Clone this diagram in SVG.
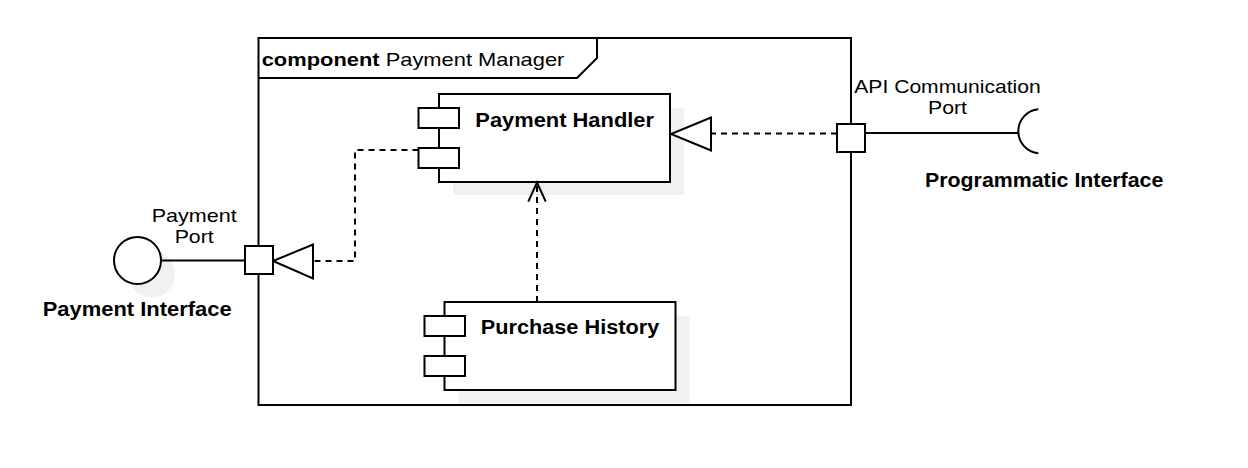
<svg xmlns="http://www.w3.org/2000/svg" width="1248" height="468" viewBox="0 0 1248 468">
  <style>
    .ln { fill: none; stroke: #000; stroke-width: 2; }
    .box { fill: #fff; stroke: #000; stroke-width: 2; }
    .shadow { fill: #f1f1f1; stroke: none; }
    .dash { fill: none; stroke: #000; stroke-width: 2; stroke-dasharray: 6 5; }
    .t { font-family: "Liberation Sans", Arial, Helvetica, sans-serif; fill: #000; }
    .r { font-size: 19px; }
    .b { font-weight: bold; }
  </style>
  <rect width="1248" height="468" fill="#fff"/>

  <g id="payment-manager">
    <rect class="box" x="258.5" y="38" width="592.5" height="367"/>
    <path class="ln" d="M258.5 78 L577 78 L597 58 L597 38"/>
    <text class="t r" x="261.7" y="65.7" textLength="302.7" lengthAdjust="spacingAndGlyphs"><tspan class="b">component</tspan> Payment Manager</text>
  </g>

  <g id="payment-handler">
    <rect class="shadow" x="453" y="108" width="231" height="87"/>
    <rect class="box" x="439" y="94" width="231" height="88"/>
    <rect class="box" x="418.5" y="108" width="40.5" height="20"/>
    <rect class="box" x="418.5" y="148" width="40.5" height="20"/>
    <text class="t b" font-size="21" x="475.3" y="126.7" textLength="178.7" lengthAdjust="spacingAndGlyphs">Payment Handler</text>
  </g>

  <g id="purchase-history">
    <rect class="shadow" x="458.5" y="316" width="231" height="88"/>
    <rect class="box" x="444.5" y="302" width="231" height="88"/>
    <rect class="box" x="424.5" y="316" width="40.5" height="20"/>
    <rect class="box" x="424.5" y="356" width="40.5" height="20"/>
    <text class="t b" font-size="21" x="480.7" y="334" textLength="178.6" lengthAdjust="spacingAndGlyphs">Purchase History</text>
  </g>

  <g id="payment-interface">
    <circle class="shadow" cx="151.5" cy="274" r="23.5"/>
    <circle class="box" cx="137.5" cy="260.5" r="23.5"/>
    <text class="t b" font-size="20" x="42.7" y="316" textLength="189" lengthAdjust="spacingAndGlyphs">Payment Interface</text>
  </g>

  <g id="programmatic-interface">
    <path class="ln" d="M1038.3 109.3 A22.1 22.1 0 0 0 1038.3 153.3"/>
    <text class="t b" font-size="20" x="925" y="186.7" textLength="238.3" lengthAdjust="spacingAndGlyphs">Programmatic Interface</text>
  </g>

  <g id="connectors">
    <line class="ln" x1="161" y1="260.5" x2="245" y2="260.5"/>
    <line class="ln" x1="865" y1="133" x2="1018.3" y2="133"/>
    <path class="dash" d="M418.5 150 L355 150 L355 261 L313 261"/>
    <polygon class="box" points="313,244.5 313,278.5 273,261"/>
    <line class="dash" x1="837" y1="133.5" x2="711" y2="133.5"/>
    <polygon class="box" points="711,117.5 711,150.5 671,134"/>
    <line class="dash" x1="537" y1="302" x2="537" y2="184"/>
    <path class="ln" d="M528.3 201.7 L537 182.5 L545.7 201.7"/>
  </g>

  <g id="payment-port">
    <rect class="box" x="245" y="246" width="28" height="28"/>
    <text class="t r" x="194.2" y="221.7" text-anchor="middle" textLength="85" lengthAdjust="spacingAndGlyphs">Payment</text>
    <text class="t r" x="194.2" y="243.3" text-anchor="middle" textLength="39" lengthAdjust="spacingAndGlyphs">Port</text>
  </g>

  <g id="api-port">
    <rect class="box" x="837" y="124" width="28" height="28"/>
    <text class="t r" x="854.3" y="92.7" textLength="186.4" lengthAdjust="spacingAndGlyphs">API Communication</text>
    <text class="t r" x="947.5" y="114.3" text-anchor="middle" textLength="39" lengthAdjust="spacingAndGlyphs">Port</text>
  </g>
</svg>
